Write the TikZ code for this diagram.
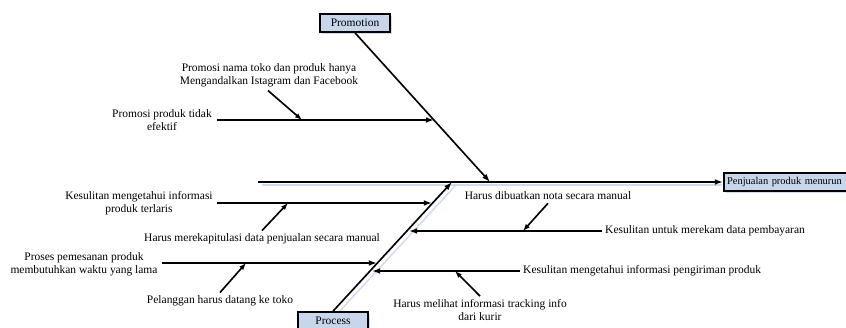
\documentclass[tikz,border=0pt]{standalone}
\usepackage{fontspec}
\setmainfont{Liberation Serif}
\usetikzlibrary{arrows.meta,shadows}
\definecolor{boxblue}{RGB}{200,214,236}
\definecolor{shadeblue}{RGB}{205,220,240}
\begin{document}
\begin{tikzpicture}[x=0.03cm,y=-0.03cm,
  font=\fontsize{9.8}{11.2}\selectfont,
  bone/.style={line width=1.4pt,-{Latex[length=7pt,width=5pt]}},
  subarrow/.style={line width=1.4pt,-{Latex[length=6pt,width=4.5pt]}},
  lbl/.style={align=center,inner sep=0pt},
  catbox/.style={draw,line width=1.4pt,fill=boxblue,minimum width=2.1cm,minimum height=0.54cm,inner sep=1pt,
     drop shadow={fill=shadeblue,shadow xshift=2pt,shadow yshift=-2pt,opacity=1}},
  shade/.style={draw=shadeblue,line width=1.2pt}]
\useasboundingbox (0,0) rectangle (846,327);
\clip (0,0) rectangle (846,327);

% coordinates
\coordinate (m0) at (258,182);
\coordinate (pr1) at (490,182);
\coordinate (ps1) at (452,182);
\coordinate (a0) at (217,120);  \coordinate (a1) at (434,120);
\coordinate (b0) at (217,203);  \coordinate (b1) at (432,203);
\coordinate (c0) at (162,263);  \coordinate (c1) at (377,263);
\coordinate (d0) at (602,231);  \coordinate (d1) at (409,231);
\coordinate (e0) at (520,271);  \coordinate (e1) at (372,271);
\coordinate (sa) at (302,120);
\coordinate (sb) at (288,203);
\coordinate (sc) at (246,263);
\coordinate (sd) at (523,231);
\coordinate (se) at (455,271);

% shadows of spines
\draw[shade] (262,185) -- (722,185);
\draw[shade] (338,313) -- (456,185);

% boxes
\node[catbox] (promo) at (355,23) {Promotion};
\node[catbox] (proc) at (333,321) {Process};
\node[catbox,anchor=west,minimum width=4.6cm,align=left,text width=4.4cm,inner xsep=2pt,
  font=\fontsize{8.9}{11}\selectfont] (effect) at (723,182) {Penjualan produk menurun};

% spines
\draw[bone] (m0) -- (effect.west);
\draw[bone] (promo.south) -- (pr1);
\draw[bone] (proc.north) -- (ps1);

% labels
\node[lbl] (la) at (162,120.5) {Promosi produk tidak\\efektif};
\node[lbl] (sla) at (269,75.5) {Promosi nama toko dan produk hanya\\Mengandalkan Istagram dan Facebook};
\node[lbl] (lb) at (139,203.5) {Kesulitan mengetahui informasi\\produk terlaris};
\node[lbl] (slb) at (262,239) {Harus merekapitulasi data penjualan secara manual};
\node[lbl] (lc) at (84,264) {Proses pemesanan produk\\membutuhkan waktu yang lama};
\node[lbl] (slc) at (220,301) {Pelanggan harus datang ke toko};
\node[lbl,anchor=west] (ld) at (605,231) {Kesulitan untuk merekam data pembayaran};
\node[lbl] (sld) at (548,196) {Harus dibuatkan nota secara manual};
\node[lbl,anchor=west] (le) at (523,271) {Kesulitan mengetahui informasi pengiriman produk};
\node[lbl] (sle) at (480,310) {Harus melihat informasi tracking info\\dari kurir};

% branches
\draw[bone] (a0) -- (a1);
\draw[bone] (b0) -- (b1);
\draw[bone] (c0) -- (c1);
\draw[bone] (d0) -- (d1);
\draw[bone] (e0) -- (e1);

% sub-causes
\draw[subarrow] (sla.south) ++(-1,3) -- (sa);
\draw[subarrow] (slb.north) ++(0,-3) -- (sb);
\draw[subarrow] (slc.north) ++(0,-3) -- (sc);
\draw[subarrow] (sld.south) ++(0,3) -- (sd);
\draw[subarrow] (sle.north) ++(0,-3) -- (se);
\end{tikzpicture}
\end{document}
